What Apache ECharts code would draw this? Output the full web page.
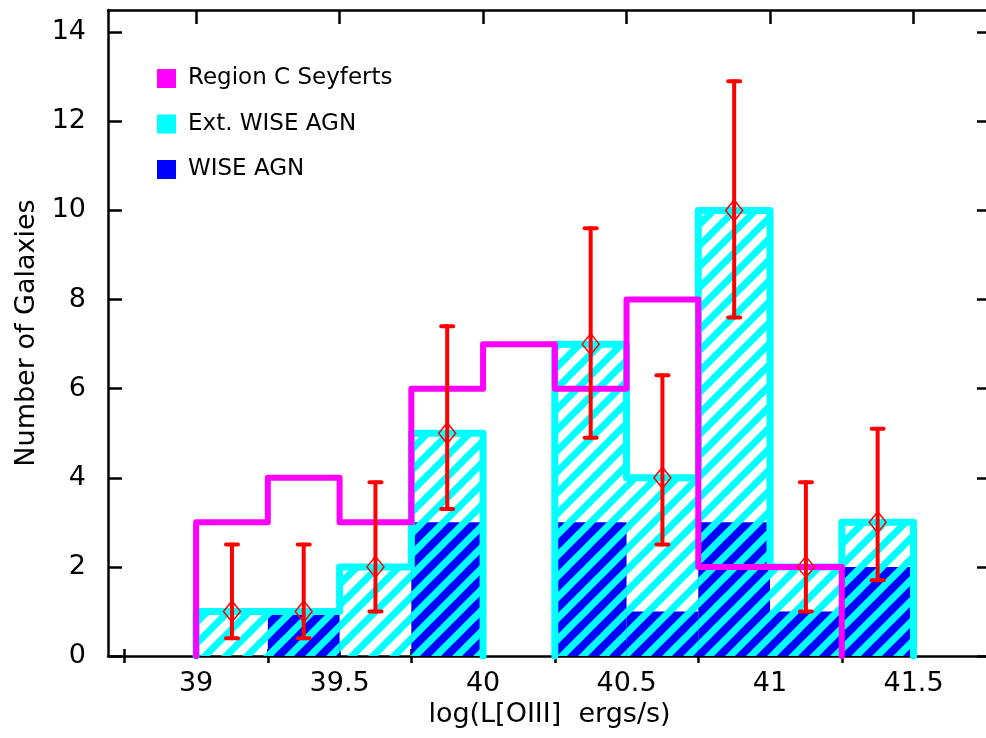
<!DOCTYPE html>
<html>
<head>
<meta charset="utf-8">
<script src="https://cdn.jsdelivr.net/npm/echarts@6/dist/echarts.min.js"></script>
<style>
  html, body { margin: 0; padding: 0; background: #fff; }
  #chart { width: 986px; height: 738px; }
</style>
</head>
<body>
<div id="chart"></div>
<script>
// histogram bins in log L[OIII]
const binEdges = [39.0, 39.25, 39.5, 39.75, 40.0, 40.25, 40.5, 40.75, 41.0, 41.25, 41.5]
const seyfertCounts = [3, 4, 3, 6, 7, 6, 8, 2, 2, 0]
const extWiseCounts = [1, 1, 2, 5, 0, 7, 4, 10, 2, 3]
const wiseCounts = [0, 1, 0, 3, 0, 3, 1, 3, 1, 2]

// error bars on Ext. WISE AGN
const errX = [39.125, 39.375, 39.625, 39.875, 40.375, 40.625, 40.875, 41.125, 41.375]
const errVal = [1, 1, 2, 5, 7, 4, 10, 2, 3]
const errLow = [0.4, 0.4, 1.0, 3.3, 4.9, 2.5, 7.6, 1.0, 1.7]
const errHigh = [2.5, 2.5, 3.9, 7.4, 9.6, 6.3, 12.9, 3.9, 5.1]

// axis ticks
const xMajorTicks = [39, 39.5, 40, 40.5, 41, 41.5]
const xMinorTicks = [38.75, 39.25, 39.75, 40.25, 40.75, 41.25]
const yTicks = [0, 2, 4, 6, 8, 10, 12, 14]

const FONT = 'DejaVu Sans'
const MAGENTA = '#ff00ff'
const CYAN = '#00ffff'
const BLUE = '#0000ff'
const RED = '#ff0000'

// diagonal hatch tile (lines run past the tile so corners join up)
function makeHatch(size, width, color) {
  const c = document.createElement('canvas')
  c.width = size
  c.height = size
  const g = c.getContext('2d')
  g.strokeStyle = color
  g.lineWidth = width
  ;[-2, -1, 0, 1, 2].forEach(k => {
    g.beginPath()
    g.moveTo(k * size - size, 2 * size)
    g.lineTo(k * size + 2 * size, -size)
    g.stroke()
  })
  return c
}
const hatch = makeHatch(21, 7, CYAN)

// step outline of a histogram, split where bins are empty
function stepRuns(edges, counts) {
  const runs = []
  let cur = null
  counts.forEach((v, i) => {
    const x0 = edges[i]
    const x1 = edges[i + 1]
    if (v === 0) {
      if (cur) { cur.push([x0, 0]); runs.push(cur); cur = null }
      return
    }
    if (!cur) cur = [[x0, 0]]
    cur.push([x0, v], [x1, v])
  })
  if (cur) { cur.push([edges[edges.length - 1], 0]); runs.push(cur) }
  return runs
}

const binData = counts => counts.map((v, i) => [binEdges[i], binEdges[i + 1], v])

function rectItem(fill) {
  return function (params, api) {
    const v = api.value(2)
    if (!v) return { type: 'group', children: [] }
    const p0 = api.coord([api.value(0), v])
    const p1 = api.coord([api.value(1), 0])
    return {
      type: 'rect',
      shape: { x: p0[0], y: p0[1], width: p1[0] - p0[0], height: p1[1] - p0[1] },
      style: { fill: fill, stroke: null }
    }
  }
}

function outlineSeries(name, counts, color, width, z) {
  const runs = stepRuns(binEdges, counts)
  return {
    name: name,
    type: 'custom',
    z: z,
    itemStyle: { color: color },
    encode: { x: 0, y: 1 },
    data: runs.map(r => r[0]),
    renderItem(params, api) {
      const pts = runs[params.dataIndex].map(p => api.coord(p))
      return {
        type: 'polyline',
        shape: { points: pts },
        style: { stroke: color, lineWidth: width, fill: 'none', lineJoin: 'round', lineCap: 'round' }
      }
    }
  }
}

const myChart = echarts.init(document.getElementById('chart'))

const baseX = {
  type: 'value',
  min: 38.693,
  max: 41.77,
  splitLine: { show: false },
  axisLine: { show: true, onZero: false, lineStyle: { color: '#000', width: 2.5 } }
}

const option = {
  animation: false,
  backgroundColor: '#fff',
  grid: { left: 108, right: -5, top: 10, bottom: 82, outerBoundsMode: 'none' },
  legend: {
    data: ['Region C Seyferts', 'Ext. WISE AGN', 'WISE AGN'],
    orient: 'vertical',
    left: 157,
    top: 67,
    padding: 0,
    itemGap: 22.5,
    itemWidth: 19,
    itemHeight: 19,
    icon: 'rect',
    selectedMode: false,
    textStyle: { fontFamily: FONT, fontSize: 23, color: '#000', lineHeight: 19, padding: [0, 0, 0, 7] }
  },
  xAxis: [
    Object.assign({}, baseX, {
      position: 'bottom',
      name: 'log(L[OIII]  ergs/s)',
      nameLocation: 'middle',
      nameGap: 45,
      nameTextStyle: { fontFamily: FONT, fontSize: 27, color: '#000' },
      axisTick: { inside: true, length: 14, customValues: xMajorTicks, lineStyle: { color: '#000', width: 2.5 } },
      axisLabel: { customValues: xMajorTicks, margin: 14, fontFamily: FONT, fontSize: 27, color: '#000' }
    }),
    Object.assign({}, baseX, {
      position: 'bottom',
      axisLine: { show: false },
      axisTick: { inside: true, length: 7, customValues: xMinorTicks, lineStyle: { color: '#000', width: 2.5 } },
      axisLabel: { show: false }
    }),
    Object.assign({}, baseX, {
      position: 'top',
      axisTick: { inside: true, length: 14, customValues: xMajorTicks, lineStyle: { color: '#000', width: 2.5 } },
      axisLabel: { show: false }
    }),
    Object.assign({}, baseX, {
      position: 'top',
      axisLine: { show: false },
      axisTick: { inside: true, length: 7, customValues: xMinorTicks, lineStyle: { color: '#000', width: 2.5 } },
      axisLabel: { show: false }
    })
  ],
  yAxis: [
    {
      type: 'value',
      position: 'left',
      min: 0,
      max: 14.5,
      splitLine: { show: false },
      name: 'Number of Galaxies',
      nameLocation: 'middle',
      nameGap: 66,
      nameTextStyle: { fontFamily: FONT, fontSize: 27, color: '#000' },
      axisLine: { show: true, onZero: false, lineStyle: { color: '#000', width: 2.5 } },
      axisTick: { inside: true, length: 14, customValues: yTicks, lineStyle: { color: '#000', width: 2.5 } },
      axisLabel: { customValues: yTicks, margin: 22, fontFamily: FONT, fontSize: 27, color: '#000' }
    },
    {
      type: 'value',
      position: 'right',
      min: 0,
      max: 14.5,
      splitLine: { show: false },
      axisLine: { show: true, onZero: false, lineStyle: { color: '#000', width: 2.5 } },
      axisTick: { inside: true, length: 14, customValues: yTicks, lineStyle: { color: '#000', width: 2.5 } },
      axisLabel: { show: false }
    }
  ],
  series: [
    {
      name: 'WISE AGN',
      type: 'custom',
      z: 2,
      itemStyle: { color: BLUE },
      encode: { x: [0, 1], y: 2 },
      data: binData(wiseCounts),
      renderItem: rectItem(BLUE)
    },
    {
      name: 'Ext. WISE AGN',
      type: 'custom',
      z: 3,
      itemStyle: { color: CYAN },
      encode: { x: [0, 1], y: 2 },
      data: binData(extWiseCounts),
      renderItem: rectItem({ image: hatch, repeat: 'repeat' })
    },
    outlineSeries('Ext. WISE AGN outline', extWiseCounts, CYAN, 7, 4),
    outlineSeries('Region C Seyferts', seyfertCounts, MAGENTA, 6, 5),
    {
      name: 'errors',
      type: 'custom',
      z: 6,
      itemStyle: { color: RED },
      encode: { x: 0, y: [1, 2, 3] },
      data: errX.map((x, i) => [x, errVal[i], errLow[i], errHigh[i]]),
      renderItem(params, api) {
        const x = api.value(0)
        const pc = api.coord([x, api.value(1)])
        const pl = api.coord([x, api.value(2)])
        const ph = api.coord([x, api.value(3)])
        const lineStyle = { stroke: RED, lineWidth: 4, lineCap: 'round' }
        return {
          type: 'group',
          children: [
            { type: 'line', shape: { x1: pl[0], y1: pl[1], x2: ph[0], y2: ph[1] }, style: lineStyle },
            { type: 'line', shape: { x1: pl[0] - 6, y1: pl[1], x2: pl[0] + 6, y2: pl[1] }, style: lineStyle },
            { type: 'line', shape: { x1: ph[0] - 6, y1: ph[1], x2: ph[0] + 6, y2: ph[1] }, style: lineStyle },
            {
              type: 'polygon',
              shape: { points: [[pc[0], pc[1] - 10.5], [pc[0] + 8.5, pc[1]], [pc[0], pc[1] + 10.5], [pc[0] - 8.5, pc[1]]] },
              style: { stroke: RED, lineWidth: 1.5, fill: 'none' }
            }
          ]
        }
      }
    }
  ]
}

myChart.setOption(option)
</script>
</body>
</html>
